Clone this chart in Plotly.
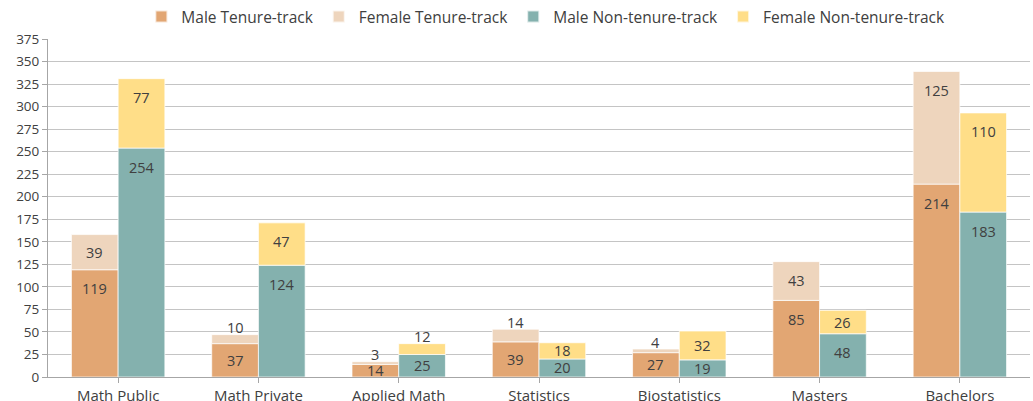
import plotly.graph_objects as go

categories = ["Math Public", "Math Private", "Applied Math", "Statistics",
              "Biostatistics", "Masters", "Bachelors"]
male_tenure = [119, 37, 14, 39, 27, 85, 214]
female_tenure = [39, 10, 3, 14, 4, 43, 125]
male_nontenure = [254, 124, 25, 20, 19, 48, 183]
female_nontenure = [77, 47, 12, 18, 32, 26, 110]
y_ticks = list(range(0, 376, 25))

C_MT = "#E2A673"
C_FT = "#EED5BD"
C_MN = "#84B1AE"
C_FN = "#FFDE88"

FONT = "Open Sans"
TXT = "#404040"

BW = 0.333
PLOT_H = 338.0
YMAX = 375.0
PX = PLOT_H / YMAX

fig = go.Figure()
idx = list(range(len(categories)))


def add_bar(name, vals, base, color, offset):
    fig.add_trace(go.Bar(
        name=name, x=idx, y=vals, base=base, width=BW, offset=offset,
        marker=dict(color=color, line=dict(color="rgba(255,255,255,0.7)", width=1)),
        hoverinfo="skip",
    ))


add_bar("Male Tenure-track", male_tenure, [0] * 7, C_MT, -BW)
add_bar("Female Tenure-track", female_tenure, male_tenure, C_FT, -BW)
add_bar("Male Non-tenure-track", male_nontenure, [0] * 7, C_MN, 0)
add_bar("Female Non-tenure-track", female_nontenure, male_nontenure, C_FN, 0)

annotations = []


def add_labels(vals, bases, xoff, female):
    for i, (v, b) in enumerate(zip(vals, bases)):
        top = b + v
        h = v * PX
        x = i + xoff
        if female and h < 14:
            annotations.append(dict(x=x, y=top, xref="x", yref="y", text=str(v),
                                    showarrow=False, yanchor="middle", yshift=7,
                                    font=dict(family=FONT, size=14.5, color=TXT)))
        else:
            off = min(19.0, h / 2.0)
            annotations.append(dict(x=x, y=top, xref="x", yref="y", text=str(v),
                                    showarrow=False, yanchor="middle", yshift=-off,
                                    font=dict(family=FONT, size=14.5, color=TXT)))


add_labels(male_tenure, [0] * 7, -BW / 2, False)
add_labels(female_tenure, male_tenure, -BW / 2, True)
add_labels(male_nontenure, [0] * 7, BW / 2, False)
add_labels(female_nontenure, male_nontenure, BW / 2, True)

fig.update_layout(
    width=1033, height=401,
    margin=dict(l=48, r=3, t=39, b=24, autoexpand=False),
    paper_bgcolor="white", plot_bgcolor="white",
    barmode="overlay",
    annotations=annotations,
    font=dict(family=FONT, color=TXT),
    legend=dict(orientation="h", x=0.507, xanchor="center",
                y=1.0, yanchor="top", yref="container",
                font=dict(family=FONT, size=15.5, color=TXT),
                itemsizing="constant", traceorder="normal"),
    showlegend=True,
)

fig.update_xaxes(
    tickmode="array", tickvals=idx, ticktext=categories,
    range=[-0.5, 6.5], showgrid=False, automargin=False,
    showline=True, linecolor="#A6A6A6", linewidth=1,
    ticks="outside", ticklen=5, tickcolor="#A6A6A6",
    tickfont=dict(family=FONT, size=15, color=TXT),
    zeroline=False,
)
fig.update_yaxes(
    range=[0, 375], tickmode="array", tickvals=y_ticks,
    showgrid=True, gridcolor="#C4C4C4", gridwidth=1, automargin=False,
    showline=True, linecolor="#A6A6A6", linewidth=1,
    ticks="outside", ticklen=5, tickcolor="#A6A6A6",
    tickfont=dict(family=FONT, size=13.5, color=TXT),
    zeroline=False,
)

fig.write_html("out.html",
               config={"displayModeBar": False, "staticPlot": True},
               post_script="document.body.style.margin='0';document.body.style.overflow='hidden';")
